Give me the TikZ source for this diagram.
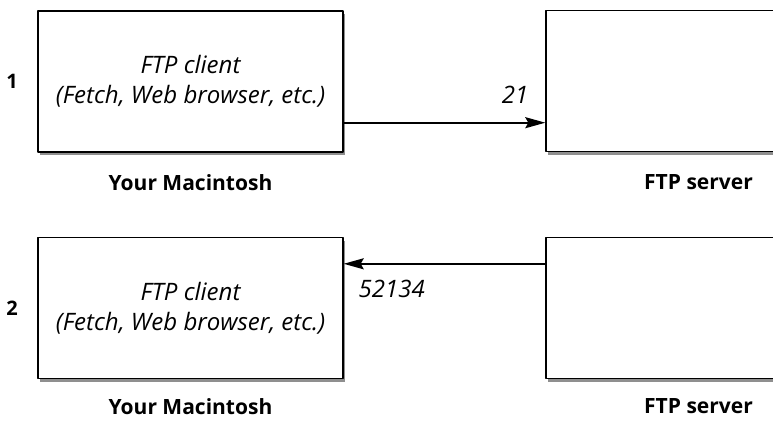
\documentclass[tikz,border=0pt]{standalone}
\usepackage{fontspec}
\setmainfont{Open Sans}
\usetikzlibrary{arrows.meta,positioning,shadows}
\tikzset{
  every picture/.style={line join=round, >={Stealth[length=20pt,width=11pt,inset=3pt]}},
  machine/.style={draw, fill=white, line width=1.4pt, minimum width=305pt, minimum height=141pt,
    inner sep=0pt, align=center, font=\itshape\fontsize{24}{30}\selectfont,
    drop shadow={shadow xshift=2pt, shadow yshift=-3pt, fill=black!55, opacity=0.8}},
  caption/.style={font=\bfseries\fontsize{21}{24}\selectfont, inner sep=1pt},
  port/.style={font=\itshape\fontsize{24}{28}\selectfont, inner sep=3pt},
  stagenum/.style={font=\bfseries\fontsize{20}{24}\selectfont},
  link/.style={->, line width=1.9pt},
}
\begin{document}
\begin{tikzpicture}[x=1pt,y=-1pt]
\useasboundingbox (0,0) rectangle (773,420);
\clip (0,0) rectangle (773,420);
% stage 1: control connection
\node[machine] (client1) at (190.5,81.5) {FTP client\\(Fetch, Web browser, etc.)};
\node[machine] (server1) at (698.5,81) {};
\node[caption, below=21pt of client1] (mac1) {Your Macintosh};
\node[caption, below=21pt of server1] (srv1) {FTP server};
\node[stagenum, left=16pt of client1] (num1) {1};
\coordinate (out1) at ([yshift=30pt]client1.south east);
\draw[link] (out1) -- (out1 -| server1.west) node[port, pos=1, above left=15pt and 13pt] (port1) {21};
% stage 2: data connection
\node[machine] (client2) at (190.5,308) {FTP client\\(Fetch, Web browser, etc.)};
\node[machine] (server2) at (698.5,308) {};
\node[caption, below=18pt of client2] (mac2) {Your Macintosh};
\node[caption, below=18pt of server2] (srv2) {FTP server};
\node[stagenum, left=16pt of client2] (num2) {2};
\coordinate (in2) at ([yshift=-27pt]client2.north east);
\draw[link] (in2 -| server2.west) -- (in2) node[port, pos=1, below right=12pt and 11pt] (port2) {52134};
\end{tikzpicture}
\end{document}
